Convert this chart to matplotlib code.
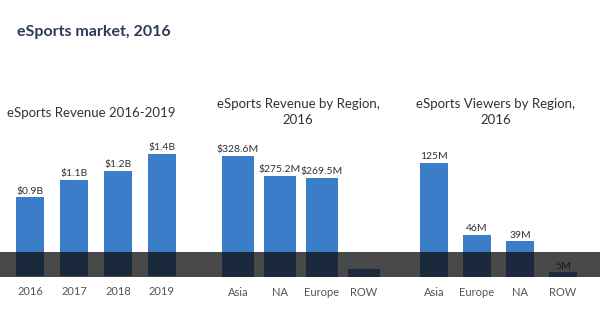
import matplotlib
matplotlib.use("Agg")
import matplotlib.pyplot as plt
from matplotlib.patches import Rectangle

plt.rcParams['font.family'] = ['Lato', 'DejaVu Sans']

# data
years = ["2016", "2017", "2018", "2019"]
revenue = [0.9, 1.1, 1.2, 1.4]
revenue_labels = ["$0.9B", "$1.1B", "$1.2B", "$1.4B"]

rev_regions = ["Asia", "NA", "Europe", "ROW"]
rev_by_region = [328.6, 275.2, 269.5, 22]
rev_region_labels = ["$328.6M", "$275.2M", "$269.5M", ""]

view_regions = ["Asia", "Europe", "NA", "ROW"]
viewers = [125, 46, 39, 5]
viewer_labels = ["125M", "46M", "39M", "5M"]

W, H = 600, 325
BLUE = "#3a7dc8"


def px_axes(fig, left, bottom, width, height):
    # place axes using pixel coords measured from the top-left
    return fig.add_axes([left / W, (H - bottom) / H, width / W, height / H])


def draw_panel(ax, cats, vals, labels, width, ymax):
    x = range(len(cats))
    ax.bar(x, vals, width=width, color=BLUE)
    for xi, v, lab in zip(x, vals, labels):
        ax.text(xi, v + ymax * 0.012, lab, ha="center", va="bottom",
                fontsize=7.5, color="#333333")
    ax.set_xlim(-0.5, len(cats) - 0.5)
    ax.set_ylim(0, ymax)
    ax.set_xticks(list(x))
    ax.set_xticklabels(cats, fontsize=8, color="#555555")
    ax.tick_params(axis="x", length=0, pad=7)
    ax.set_yticks([])
    for s in ax.spines.values():
        s.set_visible(False)


def panel_title(fig, xc, yc, text):
    fig.text(xc / W, 1 - yc / H, text, fontsize=9.5, color="#333333",
             ha="center", va="center", linespacing=1.45)


fig = plt.figure(figsize=(6, 3.25), dpi=100)
fig.text(17 / W, 1 - 32 / H, "eSports market, 2016", fontsize=11.5,
         fontweight="bold", color="#2e3b55", va="center", ha="left")

ax1 = px_axes(fig, 8, 276, 176, 140)
draw_panel(ax1, years, revenue, revenue_labels, 0.64, 1.6)
panel_title(fig, 91, 113, "eSports Revenue 2016-2019")

ax2 = px_axes(fig, 217, 277, 168, 147)
draw_panel(ax2, rev_regions, rev_by_region, rev_region_labels, 0.76, 400)
panel_title(fig, 298, 112, "eSports Revenue by Region,\n2016")

ax3 = px_axes(fig, 412.5, 277, 172, 137)
draw_panel(ax3, view_regions, viewers, viewer_labels, 0.63, 150)
panel_title(fig, 496, 112, "eSports Viewers by Region,\n2016")

# dark band across the lower part of the picture
fig.patches.append(Rectangle((0, (H - 277) / H), 1, 25 / H,
                             transform=fig.transFigure, color="#101010",
                             alpha=0.76, zorder=10, linewidth=0))

fig.savefig("out.png", dpi=100)
